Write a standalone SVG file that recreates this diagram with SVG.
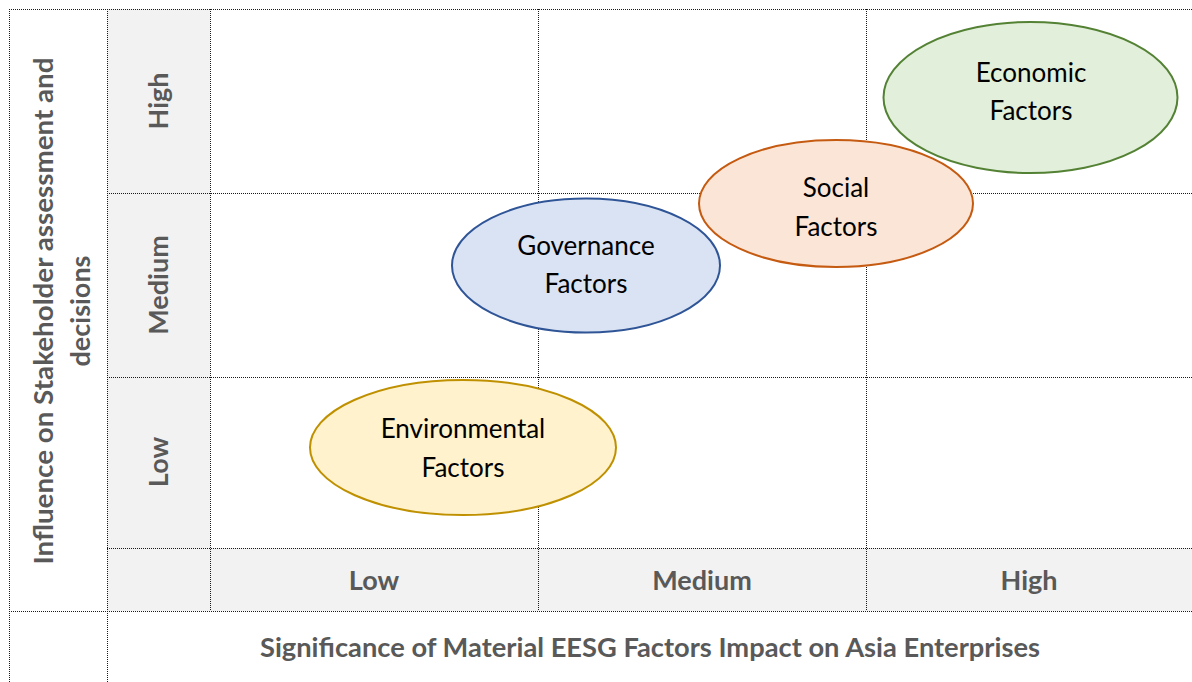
<svg xmlns="http://www.w3.org/2000/svg" width="1192" height="682" viewBox="0 0 1192 682">
<style>
.grid{stroke:#1a1a1a;stroke-width:1;stroke-dasharray:1,1;fill:none}
.cell{fill:#F2F2F2}
.lbl{font-family:Lato,"Open Sans",sans-serif;font-weight:bold;font-size:27px;fill:#595959;text-anchor:middle}
.nt{font-family:Lato,"Open Sans",sans-serif;font-size:26px;fill:#000;text-anchor:middle}
</style>
<rect width="1192" height="682" fill="#fff"/>
<g id="background">
<rect class="cell" x="107" y="9" width="103" height="539"/>
<rect class="cell" x="107" y="548" width="1085" height="63"/>
</g>
<g id="grid">
<line class="grid" x1="9" y1="9.5" x2="1192" y2="9.5"/>
<line class="grid" x1="107" y1="193.5" x2="1192" y2="193.5"/>
<line class="grid" x1="107" y1="377.5" x2="1192" y2="377.5"/>
<line class="grid" x1="107" y1="548.5" x2="1192" y2="548.5"/>
<line class="grid" x1="9" y1="611.5" x2="1192" y2="611.5"/>
<line class="grid" x1="9.5" y1="9" x2="9.5" y2="682"/>
<line class="grid" x1="107.5" y1="9" x2="107.5" y2="682"/>
<line class="grid" x1="210.5" y1="9" x2="210.5" y2="611"/>
<line class="grid" x1="538.5" y1="9" x2="538.5" y2="611"/>
<line class="grid" x1="866.5" y1="9" x2="866.5" y2="611"/>
</g>
<g id="axis-labels">
<text class="lbl" transform="translate(168,101) rotate(-90)">High</text>
<text class="lbl" transform="translate(168,285) rotate(-90)">Medium</text>
<text class="lbl" transform="translate(168,462) rotate(-90)">Low</text>
<text class="lbl" x="374" y="590">Low</text>
<text class="lbl" x="702" y="590">Medium</text>
<text class="lbl" x="1029" y="590">High</text>
<text class="lbl" x="650" y="657" textLength="780" lengthAdjust="spacingAndGlyphs">Significance of Material EESG Factors Impact on Asia Enterprises</text>
<g transform="translate(0,311) rotate(-90)">
<text class="lbl" x="0" y="53" textLength="507" lengthAdjust="spacingAndGlyphs">Influence on Stakeholder assessment and</text>
<text class="lbl" x="0" y="90">decisions</text>
</g>
</g>
<g id="social">
<ellipse cx="836" cy="203.5" rx="137" ry="63.5" fill="#FBE5D6" stroke="#C55A11" stroke-width="2"/>
<text class="nt" x="836" y="197">Social</text>
<text class="nt" x="836" y="236">Factors</text>
</g>
<g id="economic">
<ellipse cx="1030.5" cy="97.5" rx="147" ry="75.5" fill="#E2EFDA" stroke="#548235" stroke-width="2"/>
<text class="nt" x="1031" y="82">Economic</text>
<text class="nt" x="1031" y="120">Factors</text>
</g>
<g id="governance">
<ellipse cx="586" cy="265.5" rx="134" ry="67" fill="#DAE3F3" stroke="#2F5597" stroke-width="2"/>
<text class="nt" x="586" y="255">Governance</text>
<text class="nt" x="586" y="293">Factors</text>
</g>
<g id="environmental">
<ellipse cx="463" cy="447.5" rx="153" ry="67.5" fill="#FFF2CC" stroke="#BF9000" stroke-width="2"/>
<text class="nt" x="463" y="438">Environmental</text>
<text class="nt" x="463" y="477">Factors</text>
</g>
<g id="connectors"/>
</svg>
